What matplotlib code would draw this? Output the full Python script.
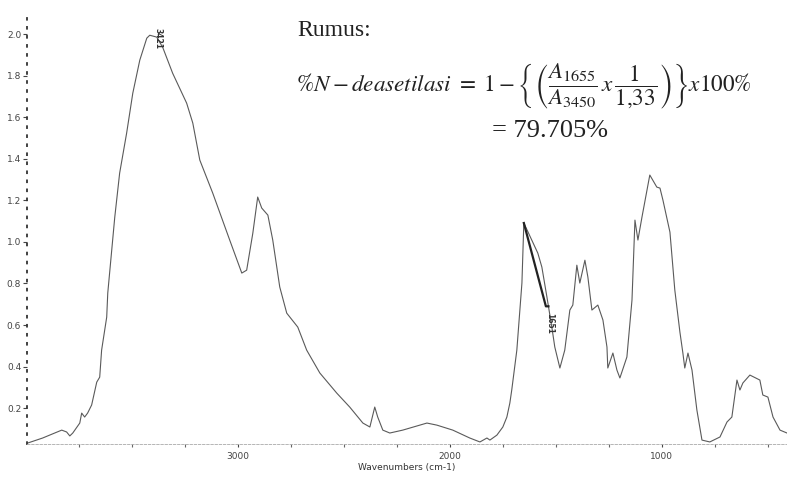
import numpy as np
import matplotlib
matplotlib.use("Agg")
import matplotlib.pyplot as plt
from matplotlib.ticker import MultipleLocator

# spektrum FTIR
wavenumber = [3990, 3920, 3887, 3830, 3807, 3792, 3778, 3745, 3736, 3722,
              3708, 3689, 3665, 3651, 3642, 3618, 3613, 3580, 3557, 3524,
              3495, 3462, 3429, 3415, 3382, 3354, 3307, 3241, 3212, 3179,
              3118, 3038, 2981, 2958, 2929, 2906, 2887, 2858, 2835, 2802,
              2769, 2717, 2675, 2613, 2533, 2472, 2410, 2377, 2354, 2340,
              2316, 2283, 2222, 2108, 2061, 1986, 1906, 1858, 1825, 1811,
              1778, 1750, 1731, 1717, 1708, 1684, 1660, 1651, 1585, 1566,
              1542, 1519, 1505, 1481, 1458, 1434, 1420, 1401, 1387, 1363,
              1349, 1330, 1302, 1278, 1259, 1255, 1231, 1212, 1198, 1165,
              1141, 1127, 1113, 1094, 1057, 1024, 1009, 995, 962, 939,
              915, 901, 892, 877, 858, 835, 811, 774, 726, 693,
              670, 646, 632, 618, 585, 538, 524, 500, 476, 443, 410]
absorbance = [0.032, 0.056, 0.070, 0.094, 0.085, 0.066, 0.080, 0.128, 0.176, 0.157,
              0.176, 0.215, 0.325, 0.349, 0.479, 0.638, 0.754, 1.119, 1.331, 1.524,
              1.716, 1.875, 1.981, 1.995, 1.986, 1.937, 1.812, 1.668, 1.572, 1.394,
              1.235, 1.009, 0.850, 0.864, 1.042, 1.216, 1.163, 1.129, 1.009, 0.783,
              0.657, 0.590, 0.479, 0.369, 0.272, 0.205, 0.128, 0.109, 0.205, 0.157,
              0.094, 0.080, 0.094, 0.128, 0.118, 0.094, 0.056, 0.037, 0.056, 0.046,
              0.070, 0.109, 0.157, 0.224, 0.287, 0.479, 0.802, 1.091, 0.946, 0.879,
              0.734, 0.590, 0.494, 0.393, 0.479, 0.672, 0.696, 0.888, 0.802, 0.912,
              0.831, 0.672, 0.696, 0.624, 0.494, 0.393, 0.465, 0.383, 0.345, 0.446,
              0.720, 1.105, 1.009, 1.119, 1.322, 1.264, 1.259, 1.201, 1.047, 0.768,
              0.566, 0.465, 0.393, 0.465, 0.383, 0.191, 0.046, 0.037, 0.061, 0.133,
              0.157, 0.335, 0.287, 0.321, 0.359, 0.335, 0.263, 0.253, 0.157, 0.094, 0.080]

# garis dasar puncak 1655
baseline_wn = [1651, 1547, 1535]
baseline_abs = [1.091, 0.690, 0.690]

peak_labels = ["3421", "1651"]
peak_wn = [3375, 1530]
peak_abs = [2.03, 0.66]

yticks = [0.2, 0.4, 0.6, 0.8, 1.0, 1.2, 1.4, 1.6, 1.8, 2.0]
xticks = [3000, 2000, 1000]

plt.rcParams['mathtext.fontset'] = 'stix'

fig = plt.figure(figsize=(7.87, 4.79), dpi=100)
ax = fig.add_axes([0.034, 0.073, 0.966, 0.889])

ax.plot(wavenumber, absorbance, color='#5a5a5a', lw=0.8)
ax.plot(baseline_wn, baseline_abs, color='#222222', lw=1.6)

for lab, xw, ya in zip(peak_labels, peak_wn, peak_abs):
    ax.text(xw, ya, lab, rotation=270, fontsize=5.5, color='#333333',
            ha='center', va='top', fontweight='bold')

ax.set_xlim(3995, 410)
ax.set_ylim(0.027, 2.077)

ax.set_yticks(yticks)
ax.set_yticklabels([f"{v:.1f}" for v in yticks])
ax.yaxis.set_minor_locator(MultipleLocator(0.04))
ax.set_xticks(xticks)
ax.set_xticklabels([str(v) for v in xticks])
ax.xaxis.set_minor_locator(MultipleLocator(250))

ax.tick_params(axis='y', which='major', length=3, width=0.8, colors='#444444',
               labelsize=6.5, pad=1, direction='out')
ax.tick_params(axis='y', which='minor', length=0)
ax.tick_params(axis='x', which='major', length=2.5, width=0.8, colors='#444444',
               labelsize=6.5, pad=3, direction='out')
ax.tick_params(axis='x', which='minor', length=2, width=0.8, colors='#666666',
               direction='out')

for s in ['top', 'right']:
    ax.spines[s].set_visible(False)
ax.spines['left'].set_linestyle((0, (1, 4)))
ax.spines['left'].set_linewidth(1.3)
ax.spines['left'].set_color('#333333')
ax.spines['bottom'].set_linestyle((0, (3, 2)))
ax.spines['bottom'].set_linewidth(0.6)
ax.spines['bottom'].set_color('#aaaaaa')

ax.set_xlabel("Wavenumbers (cm-1)", fontsize=6.5, color='#333333', labelpad=2)

# rumus
fig.text(297 / 787, 1 - 31 / 479, "Rumus:", fontsize=17, family='Liberation Serif',
         color='#222222', va='center', ha='left')
formula = (r'$\%N - deasetilasi\ =\ 1 - \left\{\left(\dfrac{A_{1655}}{A_{3450}}\,x\,'
           r'\dfrac{1}{1{,}33}\right)\right\}x100\%$')
fig.text(296 / 787, 1 - 86 / 479, formula, fontsize=16.7, color='#222222',
         va='center', ha='left')
fig.text(492 / 787, 1 - 131 / 479, '= 79.705%', fontsize=19,
         family='Liberation Serif', color='#222222', va='center', ha='left')

fig.savefig("out.png", dpi=100)
